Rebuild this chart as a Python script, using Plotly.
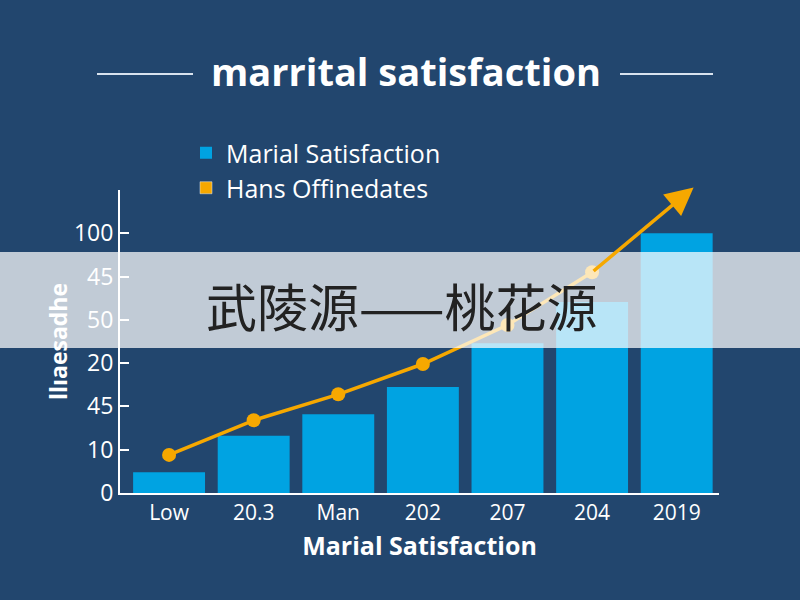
import plotly.graph_objects as go

categories = ["Low", "20.3", "Man", "202", "207", "204", "2019"]
bar_values = [0.48, 1.32, 1.82, 2.45, 3.46, 4.41, 6.0]
line_values = [0.88, 1.68, 2.28, 2.98, 3.88, 5.10]
arrow_end = [6.2, 7.06]  # (category position, value) where the trend arrow ends
tick_positions = [0, 1, 2, 3, 4, 5, 6]
tick_labels = ["0", "10", "45", "20", "50", "45", "100"]

BG = "#22466E"
BAR = "#00A3E2"
ORANGE = "#F6A800"
FONT = "Open Sans, DejaVu Sans, sans-serif"

fig = go.Figure()
fig.add_trace(go.Bar(x=list(range(len(categories))), y=bar_values, width=0.85,
                     marker=dict(color=BAR, line=dict(width=0)),
                     name="Marial Satisfaction", showlegend=True, legend="legend"))
fig.add_trace(go.Scatter(x=list(range(len(line_values))), y=line_values,
                         mode="lines+markers", line=dict(color=ORANGE, width=3.5),
                         marker=dict(color=ORANGE, size=14), showlegend=False))
# legend proxy (rectangle symbol)
fig.add_trace(go.Bar(x=[None], y=[None], marker=dict(color=ORANGE),
                     name="Hans Offinedates", showlegend=True, legend="legend2"))

last = len(line_values) - 1
fig.add_annotation(x=arrow_end[0], y=arrow_end[1], ax=last, ay=line_values[last],
                   xref="x", yref="y", axref="x", ayref="y", text="",
                   showarrow=True, arrowhead=2, arrowsize=1.6, arrowwidth=3.5,
                   arrowcolor=ORANGE)

legend_common = dict(xref="paper", yref="container", xanchor="left", yanchor="middle",
                     bgcolor="rgba(0,0,0,0)", font=dict(size=25, color="white"),
                     itemwidth=30)

fig.update_layout(
    width=800, height=600,
    paper_bgcolor=BG, plot_bgcolor=BG,
    margin=dict(l=120, r=81, t=190, b=107, autoexpand=False),
    font=dict(family=FONT, color="white"),
    barmode="overlay",
    showlegend=True,
    legend=dict(x=(186 - 120) / 599, y=1 - 153 / 600, **legend_common),
    legend2=dict(x=(186 - 120) / 599, y=1 - 188 / 600, **legend_common),
    title=dict(text="<b>marrital satisfaction</b>", x=406 / 800, xanchor="center",
               y=1 - 73 / 600, yanchor="middle",
               font=dict(size=38, color="white", family=FONT)),
    xaxis=dict(range=[-0.58, 6.5], tickmode="array",
               tickvals=list(range(len(categories))), ticktext=categories,
               showgrid=False, zeroline=False, showline=True, linecolor="white",
               linewidth=2, ticks="", tickfont=dict(size=21, color="white"),
               title=dict(text="<b>Marial Satisfaction</b>",
                          font=dict(size=25, color="white"), standoff=12)),
    yaxis=dict(range=[0, 7.0], tickmode="array", tickvals=tick_positions,
               ticktext=tick_labels, showgrid=False, zeroline=False,
               showline=True, linecolor="white", linewidth=2,
               ticks="inside", ticklen=9, tickcolor="white", tickwidth=2,
               tickfont=dict(size=23, color="white"),
               title=dict(text="<b>llıaesadhe</b>",
                          font=dict(size=23, color="white"), standoff=0)),
)

# title flanking lines
fig.add_shape(type="line", xref="paper", yref="paper",
              x0=(97 - 120) / 599, x1=(193 - 120) / 599,
              y0=(493 - 74) / 303, y1=(493 - 74) / 303,
              line=dict(color="#D8E2EE", width=2))
fig.add_shape(type="line", xref="paper", yref="paper",
              x0=(620 - 120) / 599, x1=(713 - 120) / 599,
              y0=(493 - 74) / 303, y1=(493 - 74) / 303,
              line=dict(color="#D8E2EE", width=2))

# translucent banner
fig.add_shape(type="rect", xref="paper", yref="paper",
              x0=-120 / 599, x1=(800 - 120) / 599,
              y0=(493 - 348) / 303, y1=(493 - 252) / 303,
              fillcolor="rgba(255,255,255,0.72)", line=dict(width=0), layer="above")
fig.add_annotation(text="武陵源——桃花源", xref="paper", yref="paper",
                   x=(401 - 120) / 599, y=(493 - 305) / 303,
                   xanchor="center", yanchor="middle", showarrow=False,
                   font=dict(size=51, color="#222222", family="Noto Sans CJK SC"))

fig.write_html("out.html", config={"displayModeBar": False},
               post_script="document.body.style.margin='0';")
